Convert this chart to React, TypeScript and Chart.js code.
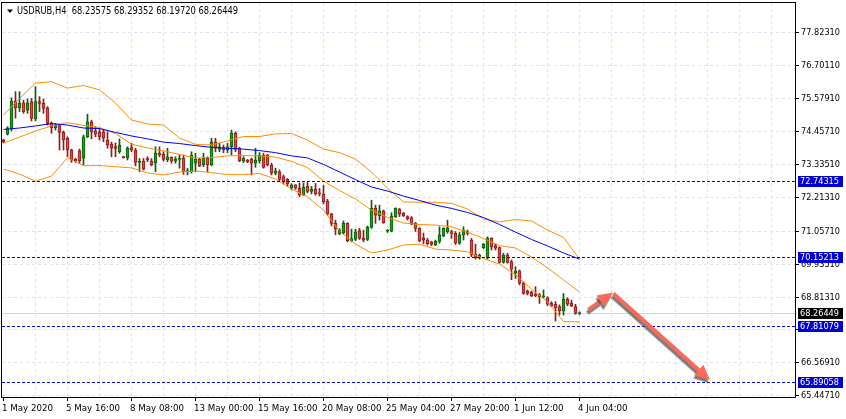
import React, { useEffect, useRef } from 'react';
import { Chart, registerables, Plugin } from 'chart.js';

Chart.register(...registerables);

const symbol = 'USDRUB,H4';

// H4 candles, bar 0 = 1 May 2020 00:00
const opens = [
  74.15, 74.35, 74.53, 75.48, 75.25, 75.42, 75.17, 75.46, 74.87, 75.46,
  75.40, 75.25, 74.74, 74.57, 74.64, 74.41, 74.21, 73.81, 73.50, 73.78,
  73.53, 74.26, 74.77, 74.46, 74.41, 74.43, 74.15, 74.01, 73.93, 73.75,
  73.58, 73.55, 73.89, 73.81, 73.39, 73.43, 73.52, 73.43, 73.36, 73.70,
  73.66, 73.47, 73.56, 73.43, 73.49, 73.53, 73.07, 73.07, 73.36, 73.49,
  73.30, 73.53, 73.30, 74.09, 73.83, 73.89, 73.81, 73.92, 74.38, 73.87,
  73.44, 73.47, 73.49, 73.36, 73.44, 73.64, 73.64, 73.30, 73.02, 73.07,
  72.90, 72.81, 72.51, 72.62, 72.51, 72.28, 72.57, 72.40, 72.48, 72.35,
  72.31, 72.07, 71.63, 71.31, 70.95, 70.99, 71.31, 70.72, 70.76, 71.06,
  70.80, 70.76, 71.17, 71.82, 71.56, 71.74, 71.04, 71.04, 71.53, 71.80,
  71.65, 71.54, 71.51, 71.31, 71.14, 70.82, 70.74, 70.68, 70.57, 70.69,
  70.89, 71.03, 71.03, 70.97, 70.63, 70.91, 71.03, 70.74, 70.26, 70.12,
  70.48, 70.14, 70.80, 70.55, 70.48, 69.98, 70.23, 70.00, 69.61, 69.69,
  69.27, 69.00, 68.96, 68.89, 68.87, 68.80, 68.77, 68.58, 68.55, 68.47,
  68.32, 68.73, 68.58, 68.47, 68.23575,
];
const highs = [
  74.18, 74.60, 75.59, 75.80, 75.80, 75.51, 75.55, 75.57, 75.97, 75.63,
  75.55, 75.29, 74.77, 74.72, 74.69, 74.46, 74.26, 73.84, 73.53, 73.84,
  74.32, 75.03, 74.83, 74.60, 74.55, 74.49, 74.43, 74.08, 74.05, 74.19,
  73.60, 73.92, 74.04, 73.87, 73.52, 73.52, 73.58, 73.52, 73.92, 73.92,
  73.75, 73.87, 73.58, 73.58, 73.64, 73.64, 73.19, 73.75, 73.70, 73.53,
  73.70, 73.58, 74.21, 74.21, 74.04, 73.98, 74.04, 74.49, 74.43, 73.90,
  73.58, 73.49, 73.53, 73.87, 73.72, 73.70, 73.66, 73.36, 73.19, 73.13,
  72.96, 72.84, 72.66, 72.63, 72.69, 72.69, 72.72, 72.57, 72.67, 72.50,
  72.61, 72.13, 71.65, 71.42, 71.13, 71.39, 71.33, 71.11, 71.11, 71.14,
  71.08, 71.22, 72.10, 71.93, 71.93, 71.76, 71.10, 71.67, 71.84, 71.82,
  71.68, 71.57, 71.54, 71.34, 71.16, 70.98, 70.80, 70.70, 70.74, 71.19,
  71.16, 71.42, 71.08, 71.03, 71.00, 71.19, 71.08, 70.80, 70.60, 70.26,
  70.62, 70.85, 70.82, 70.61, 70.51, 70.29, 70.29, 70.06, 69.83, 69.72,
  69.32, 69.04, 69.00, 69.15, 68.92, 69.04, 68.81, 68.64, 68.64, 68.53,
  68.92, 68.77, 68.69, 68.55, 68.29352,
];
const lows = [
  74.05, 74.32, 74.46, 74.90, 75.12, 75.06, 75.06, 74.80, 74.80, 75.12,
  75.06, 74.66, 74.38, 74.49, 73.81, 73.81, 73.58, 73.39, 73.39, 73.36,
  73.30, 74.23, 74.19, 74.26, 74.15, 74.09, 73.87, 73.58, 73.58, 73.70,
  73.53, 73.47, 73.75, 73.27, 73.07, 73.13, 73.41, 73.27, 73.07, 73.58,
  73.43, 73.41, 73.36, 73.36, 73.19, 72.98, 72.96, 73.02, 73.07, 73.24,
  73.24, 73.07, 73.27, 73.75, 73.75, 73.72, 73.72, 73.64, 73.75, 73.41,
  73.38, 73.38, 72.96, 73.22, 73.36, 73.19, 73.27, 72.96, 72.96, 72.76,
  72.65, 72.58, 72.45, 72.47, 72.22, 72.25, 72.35, 72.31, 72.27, 72.24,
  71.97, 71.59, 71.22, 70.92, 70.92, 70.94, 70.68, 70.68, 70.72, 70.76,
  70.68, 70.72, 71.14, 71.31, 71.42, 71.31, 71.00, 71.02, 71.51, 71.54,
  71.54, 71.42, 71.26, 71.03, 70.68, 70.61, 70.57, 70.55, 70.55, 70.63,
  70.85, 70.97, 70.80, 70.59, 70.59, 70.74, 70.91, 70.17, 70.09, 70.09,
  70.45, 70.09, 70.40, 70.40, 69.95, 69.95, 69.95, 69.39, 69.43, 69.21,
  68.89, 68.87, 68.81, 68.81, 68.58, 68.76, 68.50, 68.47, 67.98, 68.18,
  68.18, 68.50, 68.47, 68.21, 68.19720,
];
const closes = [
  74.08, 74.57, 75.48, 75.25, 75.40, 75.12, 75.42, 74.89, 75.46, 75.40,
  75.23, 74.72, 74.57, 74.66, 74.41, 74.15, 73.81, 73.47, 73.44, 73.44,
  74.26, 74.77, 74.43, 74.35, 74.26, 74.21, 73.98, 73.87, 73.86, 73.98,
  73.55, 73.87, 73.81, 73.39, 73.43, 73.16, 73.47, 73.30, 73.70, 73.64,
  73.49, 73.58, 73.43, 73.50, 73.53, 73.07, 73.11, 73.64, 73.49, 73.26,
  73.53, 73.30, 74.09, 73.87, 73.92, 73.81, 73.92, 74.38, 73.83, 73.44,
  73.53, 73.41, 73.36, 73.47, 73.64, 73.22, 73.30, 73.02, 73.10, 72.81,
  72.73, 72.65, 72.62, 72.51, 72.28, 72.54, 72.40, 72.48, 72.31, 72.31,
  72.05, 71.63, 71.31, 71.11, 71.08, 71.31, 70.72, 70.79, 71.02, 70.80,
  70.74, 71.17, 71.82, 71.59, 71.74, 71.33, 71.08, 71.56, 71.82, 71.62,
  71.57, 71.46, 71.28, 71.14, 70.71, 70.74, 70.62, 70.59, 70.70, 70.92,
  71.14, 71.16, 70.97, 70.63, 70.91, 71.08, 70.97, 70.23, 70.14, 70.23,
  70.59, 70.81, 70.51, 70.46, 69.98, 70.23, 69.98, 69.75, 69.69, 69.27,
  68.92, 68.92, 68.84, 68.84, 68.81, 68.84, 68.55, 68.50, 68.43, 68.32,
  68.72, 68.55, 68.50, 68.24, 68.26449,
];

// indicator lines, read every 4th bar
const bandBars = [
  0, 4, 8, 12, 16, 20, 24, 28, 32, 36, 40, 44, 48, 52, 56, 60, 64, 68, 72,
  76, 80, 84, 88, 92, 96, 100, 104, 108, 112, 116, 120, 124, 128, 132, 136, 140, 144,
];
const upperBand = [
  75.00, 75.57, 76.09, 76.14, 75.92, 76.01, 75.86, 75.41, 74.83, 74.70,
  74.66, 74.22, 74.00, 73.98, 74.12, 74.27, 74.27, 74.36, 74.37, 74.15,
  73.84, 73.72, 73.50, 73.06, 72.51, 72.04, 72.03, 72.03, 71.99, 71.80,
  71.46, 71.36, 71.44, 71.39, 71.08, 70.83, 70.09,
];
const middleBand = [
  74.05, 74.25, 74.46, 74.63, 74.74, 74.65, 74.58, 74.37, 74.01, 73.88,
  73.78, 73.66, 73.54, 73.55, 73.61, 73.62, 73.61, 73.57, 73.42, 73.21,
  72.75, 72.43, 72.14, 71.76, 71.51, 71.32, 71.27, 71.25, 71.19, 71.01,
  70.79, 70.55, 70.47, 70.16, 69.79, 69.38, 68.97,
];
const lowerBand = [
  73.16, 72.99, 72.75, 72.92, 73.55, 73.27, 73.28, 73.24, 73.20, 73.03,
  72.96, 73.06, 73.09, 73.04, 72.97, 72.97, 73.01, 72.82, 72.48, 72.21,
  71.76, 71.05, 70.60, 70.30, 70.40, 70.57, 70.60, 70.43, 70.40, 70.34,
  70.11, 69.92, 69.55, 69.07, 68.63, 67.96, 67.95,
];
const maLine = [
  74.51, 74.56, 74.63, 74.71, 74.66, 74.56, 74.54, 74.41, 74.29, 74.19,
  74.08, 74.03, 73.96, 73.90, 73.87, 73.84, 73.79, 73.72, 73.61, 73.54,
  73.32, 73.06, 72.80, 72.55, 72.41, 72.24, 72.09, 71.93, 71.82, 71.68,
  71.51, 71.27, 71.01, 70.76, 70.54, 70.30, 70.09,
];

const priceTicks = [
  65.4471, 66.5691, 67.6911, 68.8131, 69.9351, 71.0571,
  72.2131, 73.3351, 74.4571, 75.5791, 76.7011, 77.8231,
];
const timeBars = [0, 16, 32, 48, 64, 80, 96, 112, 128, 144];
const timeLabels = [
  '1 May 2020', '5 May 16:00', '8 May 08:00', '13 May 00:00', '15 May 16:00',
  '20 May 08:00', '25 May 04:00', '27 May 20:00', '1 Jun 12:00', '4 Jun 04:00',
];
const levels = [72.74315, 70.15213, 67.81079, 65.89058];

// hand-drawn arrows: [bar, price] from -> to
const arrows = [
  [[146.2, 68.36], [152.3, 68.95]],
  [[152.45, 68.92], [176.6, 65.97]],
];

const X_MIN = -0.375;
const X_MAX = 197.875;
const Y_MIN = 65.355;
const Y_MAX = 78.822;

const FONT = "'DejaVu Sans Condensed', 'Liberation Sans', sans-serif";
const BULL = '#1c9e1c';
const BULL_EDGE = '#0b5c0b';
const BEAR = '#e0463e';
const BEAR_EDGE = '#8c1c1c';
const ORANGE = '#ff8c00';

const up = (i: number) => closes[i] >= opens[i];

// text squeezed horizontally so that `sample` would measure `target` px
const fitScale = (ctx: CanvasRenderingContext2D, sample: string, target: number) =>
  target / ctx.measureText(sample).width;

const fitText = (ctx: CanvasRenderingContext2D, text: string, x: number, y: number, sx: number) => {
  ctx.save();
  ctx.translate(x, y);
  ctx.scale(sx, 1);
  ctx.fillText(text, 0, 0);
  ctx.restore();
};

const drawArrow = (ctx: CanvasRenderingContext2D, x1: number, y1: number, x2: number, y2: number) => {
  const ang = Math.atan2(y2 - y1, x2 - x1);
  const head = 15;
  const half = 7;
  const bx = x2 - head * Math.cos(ang);
  const by = y2 - head * Math.sin(ang);
  ctx.beginPath();
  ctx.moveTo(x1, y1);
  ctx.lineTo(bx, by);
  ctx.stroke();
  ctx.beginPath();
  ctx.moveTo(x2, y2);
  ctx.lineTo(bx + half * Math.sin(ang), by - half * Math.cos(ang));
  ctx.lineTo(bx - half * Math.sin(ang), by + half * Math.cos(ang));
  ctx.closePath();
  ctx.fill();
};

const mt4Plugin: Plugin<'bar'> = {
  id: 'mt4Overlay',
  beforeDatasetsDraw(chart) {
    const { ctx, chartArea: a, scales } = chart;
    const xs = scales.x;
    const ys = scales.y;
    ctx.save();
    ctx.lineWidth = 1;
    ctx.strokeStyle = '#e1e1f2';
    ctx.setLineDash([3, 3]);
    priceTicks.forEach((v) => {
      const y = Math.round(ys.getPixelForValue(v)) + 0.5;
      ctx.beginPath();
      ctx.moveTo(a.left, y);
      ctx.lineTo(a.right, y);
      ctx.stroke();
    });
    for (let b = 8; b <= X_MAX; b += 8) {
      const x = Math.floor(xs.getPixelForValue(b)) + 0.5;
      ctx.beginPath();
      ctx.moveTo(x, a.top);
      ctx.lineTo(x, a.bottom);
      ctx.stroke();
    }
    // bid line
    ctx.setLineDash([]);
    ctx.strokeStyle = '#d4d4e6';
    const yb = Math.round(ys.getPixelForValue(closes[closes.length - 1])) + 0.5;
    ctx.beginPath();
    ctx.moveTo(a.left, yb);
    ctx.lineTo(a.right, yb);
    ctx.stroke();
    ctx.restore();
  },
  afterDatasetsDraw(chart) {
    const { ctx, chartArea: a, scales } = chart;
    const xs = scales.x;
    const ys = scales.y;
    ctx.save();

    // horizontal levels
    ctx.strokeStyle = '#0000c8';
    ctx.lineWidth = 1;
    ctx.setLineDash([3, 2]);
    levels.forEach((v) => {
      const y = Math.round(ys.getPixelForValue(v)) + 0.5;
      ctx.beginPath();
      ctx.moveTo(a.left, y);
      ctx.lineTo(a.right, y);
      ctx.stroke();
    });
    ctx.setLineDash([]);

    // arrows
    ctx.save();
    ctx.strokeStyle = '#f96b58';
    ctx.fillStyle = '#f96b58';
    ctx.lineWidth = 4;
    ctx.shadowColor = 'rgba(80,80,80,0.75)';
    ctx.shadowOffsetX = -1;
    ctx.shadowOffsetY = 3;
    ctx.shadowBlur = 1;
    arrows.forEach(([p, q]) => {
      drawArrow(
        ctx,
        xs.getPixelForValue(p[0]), ys.getPixelForValue(p[1]),
        xs.getPixelForValue(q[0]), ys.getPixelForValue(q[1]),
      );
    });
    ctx.restore();

    // frame
    ctx.strokeStyle = '#000000';
    ctx.lineWidth = 1;
    ctx.strokeRect(a.left - 0.5, a.top - 0.5, a.right - a.left + 1, a.bottom - a.top);

    // price axis
    ctx.font = `9px ${FONT}`;
    ctx.textBaseline = 'middle';
    ctx.textAlign = 'left';
    ctx.fillStyle = '#000000';
    const psx = fitScale(ctx, '77.82310', 39);
    priceTicks.forEach((v) => {
      const y = Math.round(ys.getPixelForValue(v)) + 0.5;
      ctx.beginPath();
      ctx.moveTo(a.right + 1, y);
      ctx.lineTo(a.right + 4, y);
      ctx.stroke();
      fitText(ctx, v.toFixed(5), a.right + 6, y + 0.5, psx);
    });
    const tag = (v: number, bg: string) => {
      const y = Math.round(ys.getPixelForValue(v)) + 0.5;
      ctx.fillStyle = bg;
      ctx.fillRect(a.right + 3, y - 5.5, 45, 11);
      ctx.fillStyle = '#ffffff';
      fitText(ctx, v.toFixed(5), a.right + 5, y + 0.5, psx);
    };
    levels.forEach((v) => tag(v, '#0000d2'));
    tag(closes[closes.length - 1], '#000000');

    // time axis
    ctx.fillStyle = '#000000';
    ctx.font = `9px ${FONT}`;
    ctx.textBaseline = 'alphabetic';
    const tsx = fitScale(ctx, '5 May 16:00', 54);
    timeBars.forEach((b, k) => {
      const x = Math.floor(xs.getPixelForValue(b)) + 0.5;
      ctx.beginPath();
      ctx.moveTo(x, a.bottom);
      ctx.lineTo(x, a.bottom + 3);
      ctx.stroke();
      fitText(ctx, timeLabels[k], x - 1.5, a.bottom + 13, tsx);
    });

    // header
    const n = closes.length - 1;
    ctx.beginPath();
    ctx.moveTo(a.left + 5, a.top + 6.5);
    ctx.lineTo(a.left + 11, a.top + 6.5);
    ctx.lineTo(a.left + 8, a.top + 10);
    ctx.closePath();
    ctx.fill();
    ctx.font = `10px ${FONT}`;
    const head = `${symbol}  ${opens[n].toFixed(5)} ${highs[n].toFixed(5)} ${lows[n].toFixed(5)} ${closes[n].toFixed(5)}`;
    const hsx = fitScale(ctx, head, 221);
    fitText(ctx, head, a.left + 15, a.top + 11, hsx);

    ctx.restore();
  },
};

const App: React.FC = () => {
  const chartRef = useRef<HTMLCanvasElement | null>(null);
  const chartInstanceRef = useRef<Chart | null>(null);

  useEffect(() => {
    if (!chartRef.current) return;
    const ctx = chartRef.current.getContext('2d');
    if (!ctx) return;
    if (chartInstanceRef.current) chartInstanceRef.current.destroy();

    const bars = opens.map((_, i) => i);
    const lineSet = (vals: number[], color: string) => ({
      type: 'line' as const,
      data: bandBars.map((b, k) => ({ x: b, y: vals[k] })),
      borderColor: color,
      borderWidth: 1,
      pointRadius: 0,
      tension: 0,
      order: 0,
    });

    chartInstanceRef.current = new Chart(ctx, {
      type: 'bar',
      data: {
        datasets: [
          lineSet(maLine, '#0000ff'),
          lineSet(upperBand, ORANGE),
          lineSet(middleBand, ORANGE),
          lineSet(lowerBand, ORANGE),
          {
            type: 'bar',
            data: bars.map((i) => ({ x: i, y: [opens[i], closes[i]] })),
            backgroundColor: bars.map((i) => (up(i) ? BULL : BEAR)),
            borderColor: bars.map((i) => (up(i) ? BULL_EDGE : BEAR_EDGE)),
            borderWidth: 1,
            borderSkipped: false,
            barThickness: 3,
            minBarLength: 1,
            grouped: false,
            order: 1,
          },
          {
            type: 'bar',
            data: bars.map((i) => ({ x: i, y: [lows[i], highs[i]] })),
            backgroundColor: bars.map((i) => (up(i) ? BULL_EDGE : BEAR_EDGE)),
            borderWidth: 0,
            barThickness: 1,
            grouped: false,
            order: 2,
          },
        ] as any,
      },
      options: {
        responsive: false,
        animation: false,
        events: [],
        layout: { padding: { left: 2, top: 3, right: 51, bottom: 21 } },
        scales: {
          x: { type: 'linear', min: X_MIN, max: X_MAX, offset: false, display: false },
          y: { type: 'linear', min: Y_MIN, max: Y_MAX, display: false },
        },
        plugins: {
          legend: { display: false },
          tooltip: { enabled: false },
        },
      },
      plugins: [mt4Plugin],
    });

    return () => {
      if (chartInstanceRef.current) {
        chartInstanceRef.current.destroy();
        chartInstanceRef.current = null;
      }
    };
  }, []);

  return (
    <div style={{ position: 'absolute', left: 0, top: 0, width: 846, height: 419, background: '#ffffff' }}>
      <canvas ref={chartRef} width={846} height={419}></canvas>
    </div>
  );
};

export default App;
